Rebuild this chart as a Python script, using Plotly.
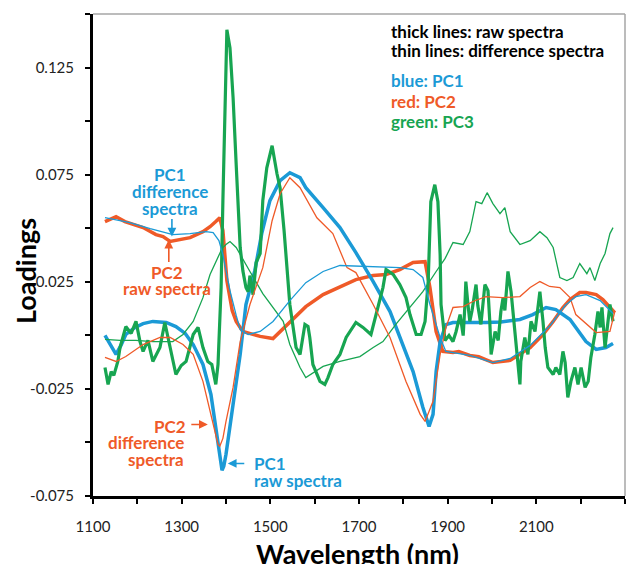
import plotly.graph_objects as go

# ---------------- data (wavelength nm, loadings) ----------------
pc1_raw_x = [1127, 1138, 1152, 1163, 1174, 1195, 1213, 1235, 1265, 1287, 1308, 1326, 1348, 1366, 1377, 1384, 1391, 1395, 1400, 1416, 1432, 1445, 1465, 1481, 1499, 1522, 1544, 1567, 1580, 1619, 1657, 1693, 1732, 1770, 1792, 1822, 1844, 1858, 1867, 1874, 1883, 1896, 1912, 1950, 1986, 2020, 2063, 2092, 2122, 2144, 2176, 2212, 2235, 2257, 2273]
pc1_raw_y = [0.0000, -0.0038, -0.0089, -0.0047, 0.0004, 0.0037, 0.0055, 0.0065, 0.0060, 0.0041, 0.0009, -0.0043, -0.0136, -0.0276, -0.0430, -0.0537, -0.0630, -0.0611, -0.0555, -0.0322, -0.0089, 0.0144, 0.0302, 0.0479, 0.0629, 0.0722, 0.0759, 0.0736, 0.0689, 0.0596, 0.0503, 0.0386, 0.0251, 0.0111, -0.0010, -0.0169, -0.0336, -0.0425, -0.0369, -0.0169, -0.0029, 0.0050, 0.0060, 0.0058, 0.0060, 0.0062, 0.0074, 0.0097, 0.0130, 0.0120, 0.0074, -0.0029, -0.0066, -0.0057, -0.0038]

pc1_diff_x = [1127, 1152, 1183, 1229, 1280, 1319, 1355, 1371, 1384, 1393, 1409, 1423, 1432, 1450, 1477, 1506, 1544, 1580, 1619, 1657, 1732, 1792, 1822, 1844, 1860, 1883, 1896, 1912, 1950, 2002, 2041, 2086, 2131, 2165, 2189, 2212, 2244, 2273]
pc1_diff_y = [0.0549, 0.0540, 0.0526, 0.0498, 0.0470, 0.0475, 0.0484, 0.0479, 0.0442, 0.0377, 0.0209, 0.0093, 0.0027, 0.0004, 0.0018, 0.0065, 0.0162, 0.0246, 0.0298, 0.0326, 0.0321, 0.0316, 0.0307, 0.0270, 0.0144, -0.0010, -0.0075, -0.0080, -0.0094, -0.0127, -0.0108, -0.0047, 0.0046, 0.0139, 0.0181, 0.0190, 0.0162, 0.0102]

pc2_raw_x = [1127, 1138, 1152, 1172, 1213, 1242, 1258, 1274, 1296, 1319, 1348, 1364, 1377, 1386, 1393, 1402, 1414, 1423, 1438, 1477, 1506, 1551, 1580, 1619, 1657, 1693, 1732, 1761, 1792, 1822, 1849, 1860, 1874, 1889, 1912, 1925, 1950, 1970, 2002, 2041, 2086, 2115, 2138, 2160, 2176, 2198, 2212, 2235, 2250, 2266, 2277]
pc2_raw_y = [0.0531, 0.0540, 0.0554, 0.0531, 0.0503, 0.0470, 0.0461, 0.0438, 0.0447, 0.0456, 0.0484, 0.0507, 0.0531, 0.0549, 0.0489, 0.0256, 0.0116, 0.0065, 0.0018, -0.0005, -0.0015, 0.0074, 0.0134, 0.0190, 0.0228, 0.0260, 0.0279, 0.0284, 0.0307, 0.0340, 0.0344, 0.0223, 0.0018, -0.0075, -0.0080, -0.0076, -0.0094, -0.0100, -0.0127, -0.0117, -0.0057, 0.0004, 0.0065, 0.0130, 0.0167, 0.0200, 0.0200, 0.0190, 0.0167, 0.0130, 0.0106]

pc2_diff_x = [1127, 1152, 1174, 1213, 1251, 1274, 1303, 1326, 1348, 1364, 1382, 1386, 1393, 1400, 1416, 1432, 1454, 1483, 1504, 1522, 1544, 1567, 1605, 1641, 1673, 1693, 1732, 1770, 1806, 1838, 1849, 1867, 1883, 1896, 1912, 1935, 1957, 1986, 2024, 2063, 2086, 2108, 2130, 2153, 2176, 2189, 2235, 2266, 2277]
pc2_diff_y = [-0.0103, -0.0122, -0.0099, -0.0043, -0.0010, -0.0010, -0.0043, -0.0089, -0.0215, -0.0355, -0.0509, -0.0518, -0.0481, -0.0402, -0.0243, -0.0029, 0.0144, 0.0316, 0.0535, 0.0661, 0.0736, 0.0689, 0.0549, 0.0475, 0.0316, 0.0293, 0.0144, -0.0010, -0.0215, -0.0369, -0.0402, -0.0308, -0.0089, 0.0036, 0.0130, 0.0134, 0.0158, 0.0181, 0.0176, 0.0181, 0.0223, 0.0251, 0.0228, 0.0223, 0.0176, 0.0097, 0.0013, 0.0018, 0.0111]

pc3_raw_x = [1127, 1134, 1141, 1147, 1156, 1161, 1174, 1186, 1197, 1206, 1213, 1224, 1235, 1251, 1262, 1274, 1287, 1299, 1310, 1326, 1337, 1348, 1359, 1368, 1377, 1382, 1389, 1393, 1398, 1402, 1409, 1416, 1423, 1432, 1438, 1445, 1450, 1454, 1461, 1468, 1477, 1483, 1492, 1504, 1515, 1522, 1531, 1538, 1544, 1558, 1567, 1578, 1585, 1589, 1596, 1612, 1623, 1630, 1641, 1657, 1671, 1693, 1709, 1727, 1738, 1754, 1761, 1777, 1792, 1806, 1815, 1829, 1840, 1849, 1856, 1862, 1871, 1878, 1883, 1885, 1894, 1903, 1912, 1919, 1928, 1935, 1939, 1941, 1946, 1950, 1955, 1964, 1968, 1975, 1984, 1991, 1995, 1998, 2007, 2014, 2020, 2025, 2029, 2036, 2043, 2052, 2059, 2063, 2065, 2074, 2081, 2088, 2097, 2104, 2108, 2115, 2120, 2126, 2138, 2144, 2153, 2160, 2165, 2171, 2178, 2187, 2194, 2201, 2210, 2217, 2223, 2232, 2239, 2244, 2248, 2255, 2262, 2266, 2273]
pc3_raw_y = [-0.0150, -0.0229, -0.0169, -0.0187, -0.0122, -0.0057, 0.0041, 0.0009, 0.0065, -0.0029, -0.0075, -0.0024, -0.0122, -0.0057, 0.0060, -0.0057, -0.0183, -0.0141, -0.0122, 0.0004, 0.0037, -0.0057, -0.0122, -0.0136, -0.0229, -0.0136, 0.0223, 0.0629, 0.1030, 0.1426, 0.1342, 0.1109, 0.0796, 0.0410, 0.0302, 0.0223, 0.0204, 0.0279, 0.0190, 0.0340, 0.0382, 0.0629, 0.0782, 0.0885, 0.0754, 0.0689, 0.0489, 0.0316, 0.0144, -0.0057, -0.0089, 0.0051, 0.0041, -0.0010, -0.0136, -0.0215, -0.0229, -0.0197, -0.0136, -0.0089, -0.0010, 0.0060, 0.0037, 0.0004, 0.0097, 0.0223, 0.0307, 0.0284, 0.0237, 0.0176, 0.0097, 0.0004, 0.0004, 0.0065, 0.0251, 0.0624, 0.0703, 0.0624, 0.0377, 0.0144, -0.0024, -0.0001, -0.0029, 0.0018, 0.0097, -0.0001, 0.0144, 0.0251, 0.0139, 0.0065, 0.0116, 0.0237, 0.0139, 0.0051, 0.0237, 0.0209, 0.0065, -0.0089, 0.0018, -0.0024, 0.0111, 0.0176, 0.0116, 0.0298, 0.0204, -0.0010, -0.0136, -0.0229, -0.0122, -0.0010, -0.0089, 0.0065, 0.0018, 0.0144, 0.0204, 0.0065, -0.0057, -0.0150, -0.0183, -0.0150, -0.0183, -0.0075, -0.0127, -0.0290, -0.0215, -0.0150, -0.0229, -0.0150, -0.0243, -0.0215, -0.0103, 0.0004, 0.0111, 0.0037, 0.0130, -0.0057, 0.0065, 0.0144, 0.0065]

pc3_diff_x = [1127, 1161, 1197, 1235, 1280, 1303, 1326, 1348, 1364, 1377, 1391, 1400, 1409, 1423, 1438, 1454, 1483, 1506, 1529, 1544, 1567, 1580, 1619, 1657, 1702, 1732, 1754, 1783, 1815, 1844, 1874, 1894, 1912, 1935, 1950, 1964, 1977, 1989, 2002, 2018, 2029, 2041, 2063, 2086, 2108, 2124, 2138, 2153, 2169, 2183, 2198, 2214, 2221, 2232, 2244, 2255, 2266, 2273]
pc3_diff_y = [-0.0019, -0.0024, -0.0024, -0.0029, -0.0029, 0.0004, 0.0065, 0.0176, 0.0284, 0.0344, 0.0405, 0.0424, 0.0438, 0.0410, 0.0358, 0.0298, 0.0195, 0.0130, 0.0065, -0.0043, -0.0150, -0.0197, -0.0145, -0.0122, -0.0099, -0.0057, -0.0029, 0.0051, 0.0130, 0.0204, 0.0298, 0.0358, 0.0433, 0.0424, 0.0484, 0.0624, 0.0615, 0.0666, 0.0615, 0.0568, 0.0596, 0.0484, 0.0424, 0.0442, 0.0484, 0.0456, 0.0410, 0.0270, 0.0256, 0.0270, 0.0335, 0.0288, 0.0316, 0.0256, 0.0335, 0.0382, 0.0475, 0.0503]

x_tick_vals = [1100, 1300, 1500, 1700, 1900, 2100, 2300]
y_tick_vals = [-0.075, -0.025, 0.025, 0.075, 0.125]
y_tick_text = ["-0.075", "-0.025", "0.025", "0.075", "0.125"]

BLUE = "#1B9AD6"
RED = "#EF5A28"
GREEN = "#17A551"
FONT = "Lato"

fig = go.Figure()

def add(x, y, color, width):
    fig.add_trace(go.Scatter(x=x, y=y, mode="lines", line=dict(color=color, width=width),
                             showlegend=False, hoverinfo="skip"))

add(pc2_raw_x, pc2_raw_y, RED, 3.5)
add(pc1_raw_x, pc1_raw_y, BLUE, 3.5)
add(pc3_raw_x, pc3_raw_y, GREEN, 3.2)
add(pc3_diff_x, pc3_diff_y, GREEN, 1.3)
add(pc2_diff_x, pc2_diff_y, RED, 1.3)
add(pc1_diff_x, pc1_diff_y, BLUE, 1.3)

# helpers: screen position (relative to the plot frame 93..625 x 14..496) -> paper fraction
def px(xp):
    return (xp - 93) / 532.0

def py(yp):
    return (496 - yp) / 482.0

ann = []

def label(text, x, y, color, xanchor="center", size=17):
    ann.append(dict(text="<b>" + text + "</b>", x=px(x), y=py(y), xref="paper", yref="paper",
                    xanchor=xanchor, yanchor="middle", showarrow=False,
                    font=dict(family=FONT, size=size, color=color)))

# legend-like text block
label("thick lines: raw spectra", 389, 32, "#000000", "left")
label("thin lines: difference spectra", 389, 51, "#000000", "left")
label("blue: PC1", 389, 81, BLUE, "left")
label("red: PC2", 389, 101, RED, "left")
label("green: PC3", 389, 121, GREEN, "left")

# callouts
label("PC1", 170, 174, BLUE)
label("difference", 170, 191, BLUE)
label("spectra", 170, 208, BLUE)
label("PC2", 167, 272, RED)
label("raw spectra", 167, 288, RED)
label("PC2", 188, 426, RED, "right")
label("difference", 186, 442, RED, "right")
label("spectra", 186, 459, RED, "right")
label("PC1", 252, 463, BLUE, "left")
label("raw spectra", 252, 480, BLUE, "left")

def arrow(x, y, ax, ay, color):
    ann.append(dict(text="", x=x, y=y, xref="x", yref="y", ax=ax, ay=ay,
                    showarrow=True, arrowhead=2, arrowsize=1.1, arrowwidth=1.6, arrowcolor=color))

arrow(1278, 0.0461, 0, -19, BLUE)
arrow(1271, 0.0447, 0, 24, RED)
arrow(1359, -0.0416, -18, 0, RED)
arrow(1404, -0.0598, 18, 0, BLUE)

# axis titles
ann.append(dict(text="<b>Loadings</b>", x=px(25), y=py(271), xref="paper", yref="paper",
                textangle=-90, showarrow=False, xanchor="center", yanchor="middle",
                font=dict(family=FONT, size=27, color="#000000")))
ann.append(dict(text="<b>Wavelength (nm)</b>", x=px(357), y=py(553), xref="paper", yref="paper",
                showarrow=False, xanchor="center", yanchor="middle",
                font=dict(family=FONT, size=27, color="#000000")))

# page body has an 8px margin, so the figure is shifted; compensate in the figure margins
fig.update_layout(
    width=634, height=556,
    margin=dict(l=85, r=17, t=6, b=68, autoexpand=False),
    paper_bgcolor="white", plot_bgcolor="white",
    annotations=ann,
    shapes=[
        dict(type="line", xref="paper", yref="paper", x0=0, x1=1, y0=1, y1=1,
             line=dict(color="#A6A6A6", width=1.5)),
        dict(type="line", xref="paper", yref="paper", x0=1, x1=1, y0=0, y1=1,
             line=dict(color="#A6A6A6", width=1.5)),
    ],
)

fig.update_xaxes(range=[1100, 2300], tickvals=x_tick_vals, ticks="outside", ticklen=5, tickwidth=2,
                 tickcolor="black", showline=True, linewidth=3, linecolor="black", showgrid=False,
                 zeroline=False, tickfont=dict(family=FONT, size=15, color="#222222"),
                 ticklabelstandoff=10,
                 minor=dict(dtick=100, tick0=1100, ticks="outside", ticklen=5, tickwidth=2,
                            tickcolor="black", showgrid=False))
fig.update_yaxes(range=[-0.075, 0.15], tickvals=y_tick_vals, ticktext=y_tick_text, ticks="outside",
                 ticklen=5, tickwidth=2, tickcolor="black", showline=True, linewidth=3,
                 linecolor="black", showgrid=False, zeroline=False,
                 tickfont=dict(family=FONT, size=15, color="#222222"), ticklabelstandoff=8,
                 minor=dict(dtick=0.025, tick0=-0.075, ticks="outside", ticklen=5, tickwidth=2,
                            tickcolor="black", showgrid=False))

fig.write_html("out.html")
